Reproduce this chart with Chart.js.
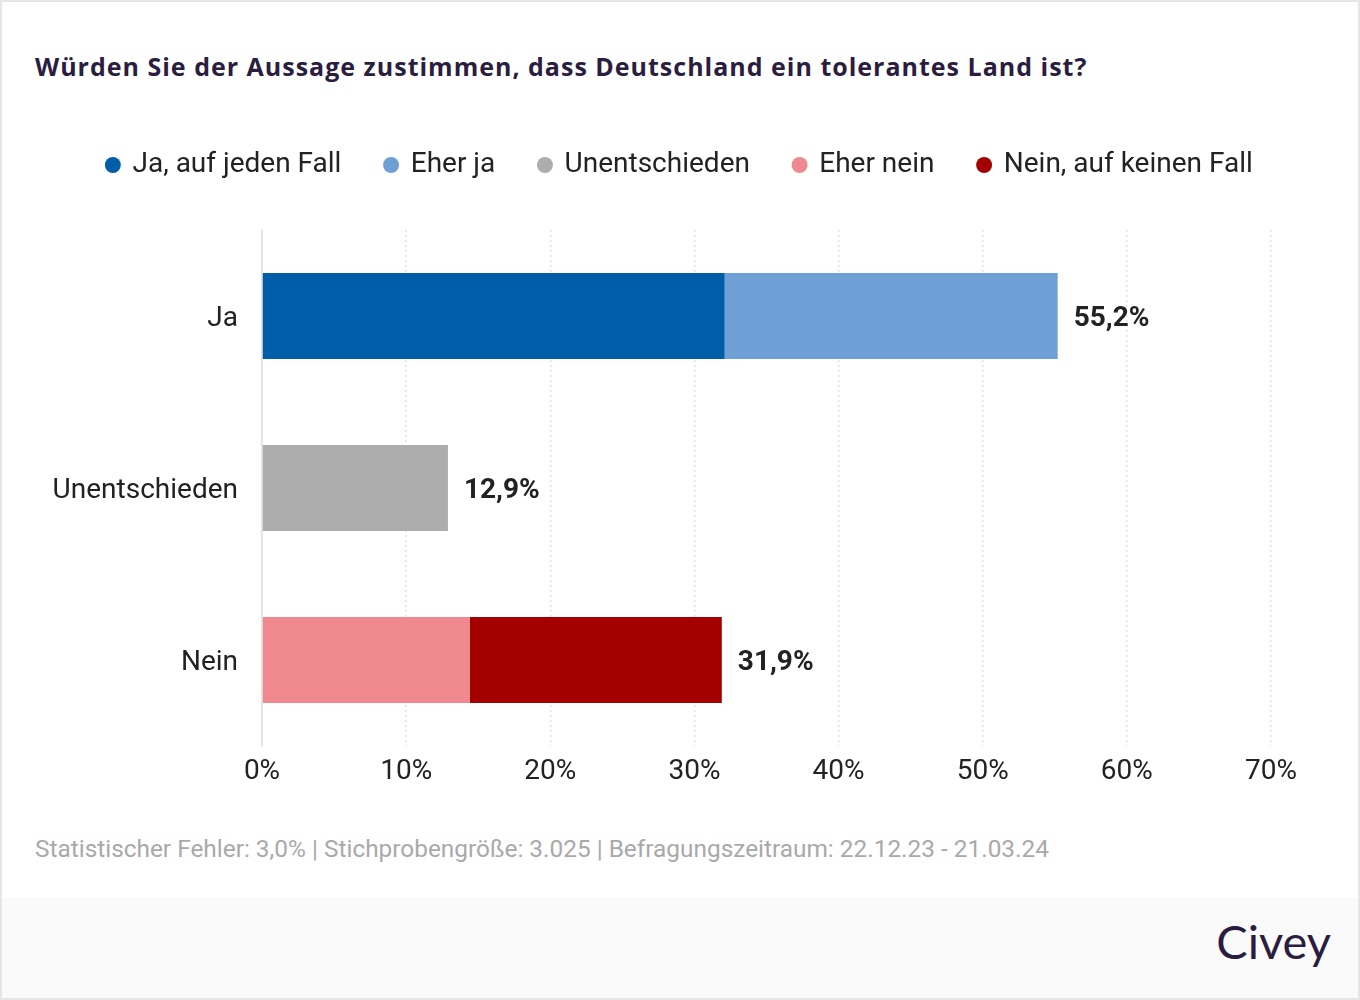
<!DOCTYPE html>
<html>
<head>
<meta charset="utf-8">
<script src="https://cdn.jsdelivr.net/npm/chart.js@4"></script>
<style>
  html, body { margin: 0; padding: 0; background: #ffffff; }
  #frame { position: relative; width: 1360px; height: 1000px; box-sizing: border-box; border: 2px solid #e6e6e6; background: #fff; overflow: hidden; }
  #title { position: absolute; left: 33px; top: 47px; font-family: 'Open Sans', sans-serif; font-weight: 700; font-size: 25px; letter-spacing: 1px; color: #2b1d3f; white-space: nowrap; }
  #wrap { position: absolute; left: -2px; top: 98px; width: 1360px; height: 720px; }
  #note { position: absolute; left: 33px; top: 832px; font-family: 'Roboto', sans-serif; font-size: 24.4px; color: #a9a9a9; white-space: nowrap; }
  #band { position: absolute; left: 0; top: 896px; width: 1356px; height: 100px; background: #fafafa; }
  #logo { position: absolute; right: 27px; top: 15px; font-family: 'Lato', sans-serif; font-size: 47px; color: #2b1d3f; }
</style>
</head>
<body>
<div id="frame">
  <div id="title">Würden Sie der Aussage zustimmen, dass Deutschland ein tolerantes Land ist?</div>
  <div id="wrap"><canvas id="c" width="1360" height="720"></canvas></div>
  <div id="note">Statistischer Fehler: 3,0% | Stichprobengröße: 3.025 | Befragungszeitraum: 22.12.23 - 21.03.24</div>
  <div id="band"><div id="logo">Civey</div></div>
</div>
<script>
const categories = ['Ja', 'Unentschieden', 'Nein'];
const seriesNames = ['Ja, auf jeden Fall', 'Eher ja', 'Unentschieden', 'Eher nein', 'Nein, auf keinen Fall'];
const jaAufJedenFall = [32.1, null, null];
const eherJa = [23.1, null, null];
const unentschieden = [null, 12.9, null];
const eherNein = [null, null, 14.4];
const neinAufKeinenFall = [null, null, 17.5];
const seriesColors = ['#005ea8', '#6ea0d6', '#adadad', '#f0898f', '#a50000'];
const xTicks = [0, 10, 20, 30, 40, 50, 60, 70];

const seriesValues = [jaAufJedenFall, eherJa, unentschieden, eherNein, neinAufKeinenFall];

const totalLabels = {
  id: 'totalLabels',
  afterDatasetsDraw(chart) {
    const ctx = chart.ctx;
    const xs = chart.scales.x, ys = chart.scales.y;
    ctx.save();
    ctx.font = 'bold 28px Roboto';
    ctx.fillStyle = '#222222';
    ctx.textAlign = 'left';
    ctx.textBaseline = 'middle';
    categories.forEach((c, i) => {
      let total = 0;
      seriesValues.forEach(s => { if (s[i] != null) total += s[i]; });
      const x = xs.getPixelForValue(total) + 16;
      const y = ys.getPixelForValue(i);
      ctx.fillText(total.toFixed(1).replace('.', ',') + '%', x, y + 3);
    });
    ctx.restore();
  }
};

const legendSpace = {
  id: 'legendSpace',
  beforeInit(chart) {
    const orig = chart.legend.fit;
    chart.legend.fit = function () {
      orig.bind(chart.legend)();
      this.height += 41;
    };
  },
  afterLayout(chart) {
    chart.legend.left = 0;
    chart.legend.right = chart.width;
    chart.legend.width = chart.width;
  }
};

new Chart(document.getElementById('c'), {
  type: 'bar',
  data: {
    labels: categories,
    datasets: seriesValues.map((vals, i) => ({
      label: seriesNames[i],
      data: vals,
      backgroundColor: seriesColors[i],
      borderWidth: 0,
      categoryPercentage: 1,
      barPercentage: 0.5
    }))
  },
  options: {
    indexAxis: 'y',
    responsive: false,
    animation: false,
    devicePixelRatio: 1,
    layout: { padding: { left: 0, right: 89, top: 7, bottom: 0 } },
    plugins: {
      legend: {
        position: 'top',
        labels: {
          usePointStyle: true,
          pointStyle: 'circle',
          boxWidth: 11.3,
          boxHeight: 11.3,
          padding: 44,
          color: '#222222',
          font: { family: 'Roboto', size: 28 }
        }
      },
      tooltip: { enabled: false },
      title: { display: false }
    },
    scales: {
      x: {
        stacked: true,
        min: 0,
        max: 70,
        afterBuildTicks(scale) { scale.ticks = xTicks.map(v => ({ value: v })); },
        afterFit(scale) { scale.height = 74; },
        grid: { color: '#e2e2e2', lineWidth: 1.5, drawTicks: false },
        border: { display: false, dash: [2, 3] },
        ticks: { padding: 9, color: '#222222', font: { family: 'Roboto', size: 28 }, callback: v => v + '%' }
      },
      y: {
        stacked: true,
        afterFit(scale) { scale.width = 262; },
        grid: { display: false, drawTicks: false },
        border: { display: true, color: '#e4e4e4', width: 2 },
        ticks: { padding: 24, labelOffset: 3, color: '#222222', font: { family: 'Roboto', size: 28 } }
      }
    }
  },
  plugins: [totalLabels, legendSpace]
});
</script>
</body>
</html>
